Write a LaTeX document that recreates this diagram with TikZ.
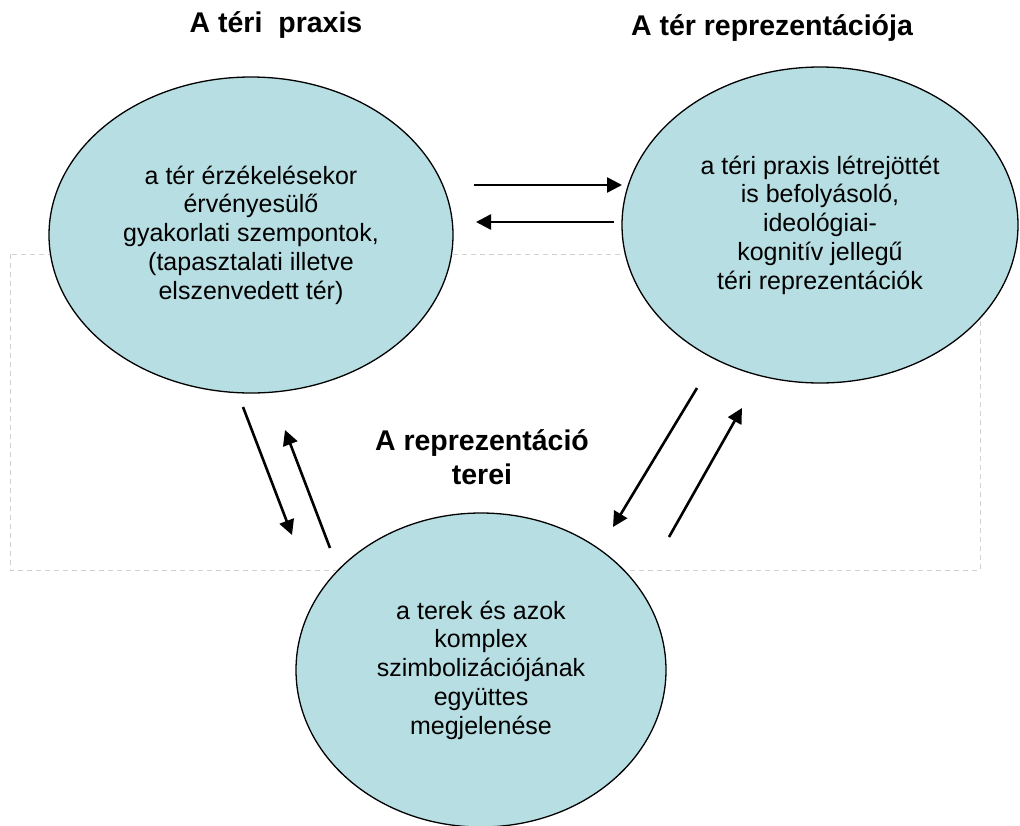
\documentclass[tikz,border=0pt]{standalone}
\usepackage{fontspec}
\setmainfont{Liberation Sans}
\usetikzlibrary{shapes.geometric}
\usetikzlibrary{arrows.meta}
\definecolor{spacefill}{RGB}{183,222,226}

\begin{document}
\begin{tikzpicture}
  [x=1pt,y=-1pt,
   every node/.style={inner sep=0pt},
   space/.style={ellipse,
                 draw=black,
                 line width=1.3pt,
                 fill=spacefill,
                 align=center,
                 %text width=9cm,
                 font=\fontsize{25}{28.7}\selectfont},
   heading/.style={align=center,
                   font=\fontsize{28.5}{34}\selectfont\bfseries},
   link/.style={-{Triangle[length=15pt,width=15pt]},line width=2.6pt}]
  \useasboundingbox (0,0) rectangle (1020,825);
  \draw[draw=black!18,line width=1pt,dash pattern=on 5pt off 4pt]
    (10,254) rectangle (980,570);

  \node[space,minimum width=404pt,minimum height=316pt] (praxis) at (251,235)
    {a tér érzékelésekor\\érvényesülő\\gyakorlati szempontok,\\(tapasztalati illetve\\elszenvedett tér)};
  \node[space,minimum width=396pt,minimum height=316pt] (repr) at (820,225)
    {a téri praxis létrejöttét\\is befolyásoló,\\ideológiai-\\kognitív jellegű\\téri reprezentációk};
  \node[space,minimum width=370pt,minimum height=314pt] (terek) at (481,670)
    {a terek és azok\\komplex\\szimbolizációjának\\együttes\\megjelenése};

  \node[heading] (praxis title) at (276,25) {A téri~~praxis};
  \node[heading] (repr title) at (772,28) {A tér reprezentációja};
  \node[heading] (terek title) at (482,457) {A reprezentáció\\terei};

  % free ends of the arrows
  \coordinate (pr1) at (474,185);  \coordinate (pr2) at (622,185);
  \coordinate (rp1) at (614,222);  \coordinate (rp2) at (476,222);
  \coordinate (pt1) at (243,407);  \coordinate (pt2) at (292,535);
  \coordinate (tp1) at (330,548);  \coordinate (tp2) at (285,430);
  \coordinate (rt1) at (697,388);  \coordinate (rt2) at (613,527);
  \coordinate (tr1) at (669,537);  \coordinate (tr2) at (742,408);

  \draw[link] (pr1) -- (pr2);
  \draw[link] (rp1) -- (rp2);
  \draw[link] (pt1) -- (pt2);
  \draw[link] (tp1) -- (tp2);
  \draw[link] (rt1) -- (rt2);
  \draw[link] (tr1) -- (tr2);
\end{tikzpicture}
\end{document}
